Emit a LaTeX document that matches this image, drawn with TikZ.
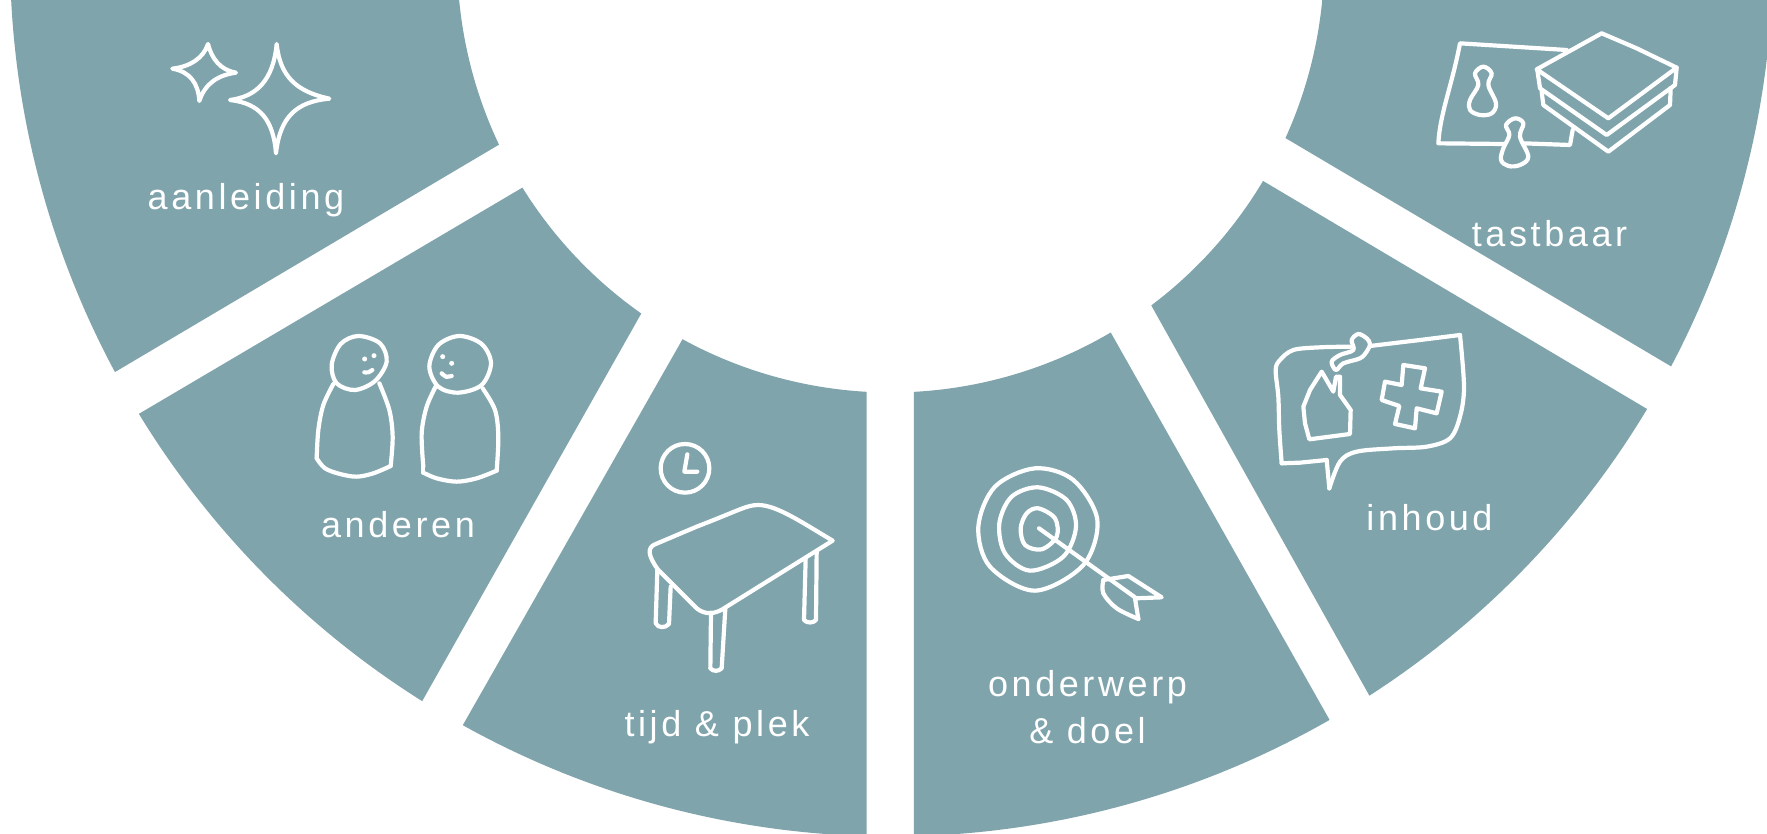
\documentclass[tikz,border=0pt]{standalone}
\usepackage{fontspec}
\setmainfont{Liberation Sans}[LetterSpace=10]
\definecolor{teal}{HTML}{80A4AC}
\usetikzlibrary{calc}
\tikzset{
  lbl/.style={text=white,font=\fontsize{36}{40}\selectfont,anchor=base,inner sep=0pt},
  zoomed/.style 2 args={shift={(#1pt,{(833-#2)*1pt})},x=0.33333pt,y=-0.33333pt,
     ink/.style={draw=white,line width=4.2pt,line cap=round,line join=round}}
}
\def\Rout{881.5pt}
\def\Rin{433.5pt}
\newcommand\sectorpath[4]{%
  \fill[teal] ($(CO)+(#1:\Rout)$) arc[start angle=#1,end angle=#2,radius=\Rout]
     -- ($(CI)+(#3:\Rin)$) arc[start angle=#3,end angle=#4,radius=\Rin] -- cycle;}
\begin{document}
\begin{tikzpicture}[x=1pt,y=1pt]
\useasboundingbox (0,0) rectangle (1767,833);
\clip (0,0) rectangle (1767,833);
\fill[white] (0,0) rectangle (1767,833);
\coordinate (CO) at (891.5,878);
\coordinate (CI) at (890.7,874);
\sectorpath{180}{208.24}{205.36}{180}
\sectorpath{211.37}{237.83}{234.87}{211.83}
\sectorpath{240.9}{268.39}{266.83}{241.3}
\sectorpath{271.46}{299.8}{300.5}{273.08}
\sectorpath{302.83}{329.0}{329.2}{306.95}
\sectorpath{332.18}{360}{360}{335.6}

% labels
\node[lbl] (t1) at (246,623) {aanleiding};
\node[lbl] (t2) at (398,295.5) {anderen};
\node[lbl] (t3) at (717,97) {tijd \& plek};
\node[lbl] (t4) at (1087.5,136.5) {onderwerp};
\node[lbl] (t5) at (1087.5,89) {\& doel};
\node[lbl] (t6) at (1429.5,302) {inhoud};
\node[lbl] (t7) at (1549.5,586) {tastbaar};

% stars
\begin{scope}[zoomed={140}{20}]
\draw[ink] (204,72) .. controls (215,115) and (240,150) .. (288,158) .. controls (235,165) and (195,190) .. (178,243) .. controls (175,190) and (150,155) .. (97,146) .. controls (150,140) and (190,115) .. (204,72) -- cycle;
\draw[ink] (410,72) .. controls (420,170) and (470,215) .. (568,236) .. controls (470,245) and (420,290) .. (408,400) .. controls (400,300) and (360,250) .. (270,240) .. controls (350,230) and (400,180) .. (410,72) -- cycle;
\end{scope}

% people
\begin{scope}[zoomed={300}{320}]
\draw[ink] plot[smooth cycle,tension=.55] coordinates {(175,48)(240,70)(260,125)(225,183)(165,210)(110,190)(95,135)(122,72)};
\draw[ink] plot[smooth,tension=.55] coordinates {(100,192)(70,255)(55,330)(50,415)};
\draw[ink] plot[smooth,tension=.55] coordinates {(50,415)(75,445)(120,462)(170,470)(220,460)(272,438)};
\draw[ink] plot[smooth,tension=.55] coordinates {(272,438)(278,350)(268,270)(238,190)};
\fill[white] (194,117) circle[radius=7.5] (222,107) circle[radius=7.5];
\draw[ink] plot[smooth] coordinates {(193,157)(205,157)(217,150)};
\draw[ink] plot[smooth cycle,tension=.55] coordinates {(478,48)(545,72)(573,130)(545,195)(475,218)(415,200)(388,140)(415,75)};
\draw[ink] plot[smooth,tension=.55] coordinates {(408,198)(380,260)(365,340)(370,440)};
\draw[ink] plot[smooth,tension=.55] coordinates {(370,458)(410,475)(470,485)(530,475)(590,452)};
\draw[ink] (370,440) -- (370,458);
\draw[ink] plot[smooth,tension=.55] coordinates {(590,452)(595,350)(585,270)(548,205)};
\fill[white] (428,110) circle[radius=7.5] (455,130) circle[radius=7.5];
\draw[ink] plot[smooth] coordinates {(425,160)(438,170)(455,168)};
\end{scope}

% table and clock
\begin{scope}[zoomed={630}{420}]
\draw[ink] (165,145) circle[radius=73];
\draw[ink] (172,103) -- (163,155) -- (202,155);
\draw[ink] (608,362) .. controls (520,310) and (440,255) .. (385,255) .. controls (350,255) and (330,270) .. (200,320) -- (75,373) .. controls (50,383) and (55,410) .. (85,450) -- (200,565) .. controls (225,585) and (255,585) .. (290,560) -- cycle;
\draw[ink] (82,450) -- (77,610) .. controls (85,625) and (105,625) .. (117,612) -- (122,500);
\draw[ink] (243,578) -- (241,745) .. controls (250,755) and (265,755) .. (275,745) -- (286,565);
\draw[ink] (527,415) -- (522,600) .. controls (530,610) and (550,610) .. (558,600) -- (560,395);
\end{scope}

% target
\begin{scope}[zoomed={960}{450}]
\draw[ink] plot[smooth cycle,tension=.55] coordinates {(225,55)(340,90)(412,210)(370,345)(225,422)(90,350)(55,230)(105,110)};
\draw[ink] plot[smooth cycle,tension=.55] coordinates {(235,112)(320,150)(348,230)(310,320)(210,362)(135,310)(118,220)(155,140)};
\draw[ink] plot[smooth cycle,tension=.55] coordinates {(235,175)(285,205)(290,260)(245,298)(195,285)(182,235)(200,190)};
\draw[ink] (237,235) -- (525,442);
\draw[ink] (430,390) -- (505,378) -- (605,442) -- (525,445) -- (535,507);
\draw[ink] plot[smooth,tension=.55] coordinates {(430,390)(430,430)(470,475)(535,507)};
\end{scope}

% speech bubble
\begin{scope}[zoomed={1260}{320}]
\draw[ink] plot[smooth,tension=.55] coordinates {(272,80)(180,82)(100,90)(60,120)(47,150)(55,230)(58,330)(65,430)};
\draw[ink] (65,430) -- (120,428) -- (200,420);
\draw[ink] (200,420) -- (208,505);
\draw[ink] plot[smooth,tension=.55] coordinates {(208,505)(240,425)(290,395)(400,385)(500,380)(570,355)(600,290)(612,200)(600,45)};
\draw[ink] (600,45) -- (480,60) -- (330,78);
\draw[ink] plot[smooth cycle,tension=.55] coordinates {(330,72)(320,55)(295,42)(275,60)(280,90)(240,105)(215,125)(228,150)(250,130)(300,115)(320,95)};
\draw[ink] (185,155) -- (150,210) -- (130,260) -- (135,310) -- (148,358) -- (270,342) -- (272,270) -- (240,225) -- (240,170) -- (228,170) -- (220,215) -- cycle;
\draw[ink] (430,135) -- (495,145) -- (482,205) -- (545,215) -- (530,280) -- (470,265) -- (465,325) -- (405,312) -- (418,258) -- (365,240) -- (375,185) -- (425,195) -- cycle;
\end{scope}

% board game
\begin{scope}[zoomed={1420}{20}]
\draw[ink] (440,90) -- (120,70) .. controls (95,200) and (60,280) .. (55,370) -- (250,372);
\draw[ink] (310,370) -- (450,375) -- (458,330);
\draw[ink] plot[smooth cycle,tension=.6] coordinates {(190,140)(215,160)(205,195)(228,250)(215,280)(180,285)(150,270)(150,240)(175,195)(165,160)};
\draw[ink] plot[smooth cycle,tension=.6] coordinates {(285,295)(310,310)(300,350)(325,410)(300,435)(265,438)(243,420)(250,385)(268,345)(258,315)};
\draw[ink] (350,148) -- (545,40) -- (650,85) -- (770,143) -- (565,295) -- cycle;
\draw[ink] (352,150) -- (360,205) -- (560,345) -- (765,195) -- (770,143);
\draw[ink] (365,215) -- (370,255) -- (565,395) -- (750,255) -- (752,205);
\end{scope}
\end{tikzpicture}
\end{document}
